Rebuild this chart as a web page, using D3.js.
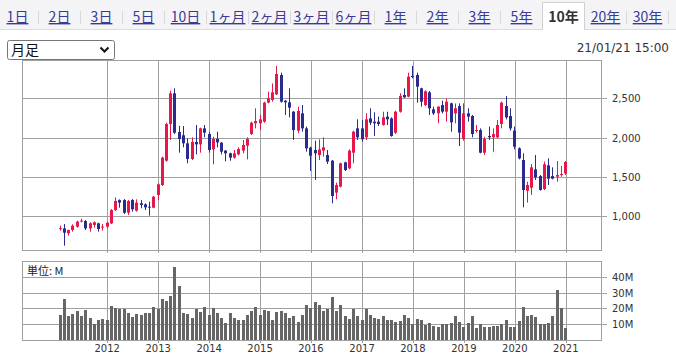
<!DOCTYPE html>
<html lang="ja">
<head>
<meta charset="utf-8">
<title>10年 月足</title>
<script src="https://cdn.jsdelivr.net/npm/d3@7"></script>
<style>
  body { margin: 0; background: #fff; }
  svg { display: block; }
  .axis text { font-family: "DejaVu Sans", sans-serif; font-size: 10px; fill: #333; }
  .axis .domain { display: none; }
  .axis line { stroke: #a0a0a0; shape-rendering: crispEdges; }
</style>
</head>
<body>
<svg id="chart"></svg>
<script>
// period tabs
const tabs = ["1日", "2日", "3日", "5日", "10日", "1ヶ月", "2ヶ月", "3ヶ月", "6ヶ月",
              "1年", "2年", "3年", "5年", "10年", "20年", "30年"];
const activeTab = "10年";
const stamp = "21/01/21 15:00";

// monthly candles, Feb 2011 .. Jan 2021 (yen)
const open = [845, 847, 784, 826, 868, 938, 940, 847, 890, 911, 862, 868,
  911, 1080, 1207, 1207, 1046, 1207, 1072, 1165, 1152, 1123, 1110, 1271,
  1398, 1707, 2173, 2563, 2072, 2030, 1928, 1729, 1945, 1915, 2118, 2046,
  1851, 1983, 1936, 1835, 1801, 1746, 1788, 1835, 1898, 2046, 2182, 2182,
  2203, 2445, 2479, 2551, 2796, 2470, 2449, 2330, 2089, 2309, 2118, 1873,
  1843, 1779, 1835, 1779, 1707, 1301, 1377, 1686, 1610, 1809, 2118, 2118,
  2004, 2245, 2203, 2203, 2161, 2267, 2245, 2063, 2330, 2542, 2521, 2784,
  2796, 2627, 2415, 2576, 2360, 2309, 2415, 2330, 2436, 2309, 2402, 1983,
  2309, 2275, 2089, 2097, 1809, 2021, 2004, 2004, 2173, 2402, 2275, 2089,
  1864, 1716, 1326, 1364, 1597, 1512, 1347, 1648, 1512, 1504, 1525, 1546];
const high = [881, 902, 830, 898, 945, 970, 953, 924, 936, 919, 902, 932,
  1093, 1241, 1216, 1220, 1207, 1220, 1216, 1207, 1165, 1186, 1258, 1419,
  1758, 2190, 2597, 2627, 2150, 2148, 1991, 2004, 2161, 2127, 2161, 2076,
  2012, 2076, 1945, 1843, 1809, 1843, 1877, 1970, 2004, 2203, 2373, 2288,
  2457, 2584, 2690, 2911, 2826, 2479, 2627, 2339, 2394, 2415, 2140, 1885,
  1962, 1979, 2004, 1843, 1716, 1428, 1682, 1695, 1851, 2089, 2233, 2224,
  2309, 2373, 2322, 2267, 2330, 2330, 2258, 2343, 2563, 2627, 2826, 2911,
  2826, 2635, 2600, 2593, 2394, 2400, 2470, 2500, 2445, 2436, 2436, 2436,
  2373, 2288, 2161, 2118, 2012, 2140, 2118, 2224, 2457, 2529, 2373, 2140,
  1877, 1801, 1440, 1665, 1779, 1525, 1695, 1737, 1623, 1703, 1640, 1703];
const low = [818, 627, 754, 805, 856, 924, 826, 805, 856, 805, 818, 847,
  902, 1068, 1110, 1030, 1017, 1059, 1059, 1102, 1080, 1008, 1102, 1207,
  1385, 1695, 1970, 2046, 1809, 1877, 1674, 1716, 1788, 1809, 2004, 1809,
  1661, 1877, 1788, 1699, 1707, 1733, 1775, 1801, 1724, 2034, 2118, 2097,
  2190, 2436, 2457, 2542, 2445, 2288, 2258, 1970, 2055, 2076, 1822, 1576,
  1462, 1716, 1758, 1665, 1165, 1216, 1368, 1576, 1597, 1674, 1970, 1949,
  1970, 2161, 2021, 2148, 2152, 2161, 2012, 2046, 2318, 2505, 2512, 2754,
  2445, 2394, 2400, 2288, 2288, 2182, 2309, 2203, 2076, 2182, 1894, 1962,
  2203, 2004, 2063, 1801, 1779, 1970, 1822, 1991, 2118, 2233, 2089, 1851,
  1724, 1114, 1174, 1271, 1462, 1326, 1335, 1398, 1470, 1440, 1504, 1525];
const close = [850, 792, 826, 881, 932, 945, 847, 911, 924, 839, 870, 919,
  1080, 1195, 1174, 1046, 1195, 1089, 1174, 1144, 1114, 1110, 1250, 1407,
  1746, 2173, 2563, 2063, 1983, 1928, 1729, 1945, 1915, 2118, 2063, 1843,
  1983, 1940, 1822, 1801, 1746, 1801, 1856, 1907, 1983, 2190, 2211, 2233,
  2445, 2500, 2576, 2809, 2457, 2449, 2381, 2097, 2339, 2118, 1864, 1771,
  1801, 1851, 1877, 1695, 1258, 1398, 1674, 1589, 1835, 2076, 2004, 1979,
  2233, 2190, 2182, 2173, 2258, 2233, 2021, 2330, 2529, 2512, 2775, 2775,
  2648, 2457, 2590, 2373, 2309, 2394, 2330, 2457, 2195, 2373, 2063, 2309,
  2267, 2046, 2097, 1809, 1983, 2004, 2046, 2161, 2445, 2258, 2118, 1885,
  1737, 1335, 1398, 1623, 1496, 1335, 1661, 1479, 1479, 1525, 1538, 1690];

// monthly volume (millions of shares)
const volume = [15.7, 25.7, 15.1, 16.3, 18.2, 15.1, 18.8, 14.0, 10.0, 12.5, 13.2, 12.5,
  21.3, 20.5, 19.8, 19.4, 16.9, 14.4, 16.3, 15.7, 16.9, 16.9, 20.7, 19.8,
  25.7, 24.5, 27.6, 45.9, 33.9, 16.9, 16.3, 13.8, 19.4, 17.5, 20.7, 15.7,
  20.1, 16.9, 13.8, 10.7, 16.9, 13.8, 12.5, 12.5, 15.7, 18.2, 20.7, 15.7,
  18.8, 18.2, 12.5, 17.5, 18.2, 16.9, 13.8, 15.1, 11.3, 15.7, 22.0, 20.1,
  23.9, 22.0, 18.2, 19.4, 27.0, 18.2, 22.0, 15.1, 13.2, 19.4, 15.1, 12.5,
  19.4, 15.7, 13.8, 13.2, 15.1, 12.5, 12.5, 11.3, 11.9, 15.7, 13.8, 10.0,
  13.2, 12.5, 9.4, 10.7, 8.7, 8.1, 10.0, 10.0, 10.7, 15.1, 11.3, 8.1,
  10.7, 15.1, 7.5, 10.0, 8.1, 8.1, 8.7, 8.7, 10.0, 12.5, 8.1, 8.1,
  11.9, 20.7, 15.1, 15.7, 14.4, 10.0, 10.0, 10.7, 15.1, 31.4, 20.1, 7.5];

const priceTicks = [1000, 1500, 2000, 2500];
const volumeTicks = [10, 20, 30, 40];
const years = [2012, 2013, 2014, 2015, 2016, 2017, 2018, 2019, 2020, 2021];

const svg_width = 676, svg_height = 354;
const plot = { left: 22, right: 602, top: 60, bottom: 250 };
const vol = { top: 261, bottom: 340 };
const UP = "#e8174b", DOWN = "#2b2b8e", GRID = "#a0a0a0";

const svg = d3.select("#chart")
    .attr("width", svg_width)
    .attr("height", svg_height);

// ---- tab strip ----
const tabX = d3.scaleBand().domain(tabs).range([-3.5, -3.5 + 42 * tabs.length]);

svg.append("rect")
    .attr("x", 0).attr("y", 0)
    .attr("width", svg_width).attr("height", 29.5)
    .attr("fill", "#f4f4f7");
svg.append("line")
    .attr("x1", 0).attr("x2", svg_width)
    .attr("y1", 29.5).attr("y2", 29.5)
    .attr("stroke", "#dcdcdc");

const tab = svg.append("g").selectAll("g")
    .data(tabs)
    .join("g")
    .attr("transform", d => `translate(${tabX(d)},0)`);

tab.filter(d => d === activeTab).append("path")
    .attr("d", `M0,30V2.5H${tabX.bandwidth()}V30`)
    .attr("fill", "#fff")
    .attr("stroke", "#d0d0d0");

tab.filter((d, i) => d !== activeTab && tabs[i + 1] !== activeTab)
    .append("line")
    .attr("x1", tabX.bandwidth()).attr("x2", tabX.bandwidth())
    .attr("y1", 11).attr("y2", 24)
    .attr("stroke", "#d8d8d8");

tab.append("text")
    .attr("x", tabX.bandwidth() / 2)
    .attr("y", 22)
    .attr("text-anchor", "middle")
    .style("font-family", '"Noto Sans CJK JP", sans-serif')
    .style("font-size", "14px")
    .style("font-weight", d => d === activeTab ? "bold" : "normal")
    .style("text-decoration", d => d === activeTab ? "none" : "underline")
    .attr("fill", d => d === activeTab ? "#333" : "#3a3a96")
    .text(d => d);

// ---- select box + timestamp ----
const sel = svg.append("g");
sel.append("rect")
    .attr("x", 7.5).attr("y", 40.5)
    .attr("width", 107).attr("height", 19)
    .attr("rx", 2)
    .attr("fill", "#fff")
    .attr("stroke", "#767676");
sel.append("text")
    .attr("x", 11).attr("y", 55)
    .style("font-family", '"Noto Sans CJK JP", sans-serif')
    .style("font-size", "14px")
    .attr("fill", "#111")
    .text("月足");
sel.append("path")
    .attr("d", "M100.5,47.5l4,4l4,-4")
    .attr("fill", "none")
    .attr("stroke", "#111")
    .attr("stroke-width", 2);

svg.append("text")
    .attr("x", 669).attr("y", 51.5)
    .attr("text-anchor", "end")
    .style("font-family", '"DejaVu Sans", sans-serif')
    .style("font-size", "12px")
    .attr("fill", "#333")
    .text(stamp);

// ---- scales ----
const months = d3.timeMonth.range(new Date(2011, 1, 1), new Date(2021, 1, 1));
const candles = months.map((m, i) => ({
    date: m, o: open[i], h: high[i], l: low[i], c: close[i], v: volume[i]
}));

const x = d3.scaleTime()
    .domain([new Date(2010, 4, 4), new Date(2021, 8, 21)])
    .range([plot.left, plot.right]);
const y = d3.scaleLinear().domain([572, 2987]).range([plot.bottom, plot.top]);
const yv = d3.scaleLinear().domain([0, 50]).range([vol.bottom, vol.top]);
const yearDates = years.map(yr => new Date(yr, 0, 1));
const px = d => Math.round(x(d));

// ---- price panel ----
svg.append("g")
    .attr("class", "axis")
    .attr("transform", `translate(0,${plot.bottom + 3})`)
    .call(d3.axisBottom(x).tickValues(yearDates)
        .tickSize(-(plot.bottom + 3 - plot.top)).tickFormat(""))
    .selectAll(".tick line").attr("transform", "translate(0.5,0)");

svg.append("g")
    .attr("class", "axis")
    .attr("transform", `translate(${plot.right + 5},0.5)`)
    .call(d3.axisRight(y).tickValues(priceTicks)
        .tickSize(-(plot.right + 5 - plot.left)).tickPadding(5)
        .tickFormat(d3.format(",")))
    .selectAll(".tick").attr("transform", d => `translate(0,${Math.round(y(d))})`);

svg.append("rect")
    .attr("x", plot.left + 0.5).attr("y", plot.top + 0.5)
    .attr("width", plot.right - plot.left - 1).attr("height", plot.bottom - plot.top)
    .attr("fill", "none")
    .attr("stroke", GRID);

const candle = svg.append("g").selectAll("g")
    .data(candles)
    .join("g")
    .attr("fill", d => d.c >= d.o ? UP : DOWN)
    .attr("stroke", d => d.c >= d.o ? UP : DOWN);

candle.append("line")
    .attr("x1", d => px(d.date) + 0.5).attr("x2", d => px(d.date) + 0.5)
    .attr("y1", d => y(d.h)).attr("y2", d => y(d.l));

candle.append("rect")
    .attr("x", d => px(d.date) - 1)
    .attr("width", 3)
    .attr("y", d => y(Math.max(d.o, d.c)))
    .attr("height", d => Math.max(1, Math.abs(y(d.o) - y(d.c))))
    .attr("stroke", "none");

// ---- volume panel ----
svg.append("g")
    .attr("class", "axis")
    .attr("transform", `translate(0,${vol.bottom + 3})`)
    .call(d3.axisBottom(x).tickValues(yearDates)
        .tickSize(-(vol.bottom + 3 - vol.top)).tickPadding(2)
        .tickFormat(d3.timeFormat("%Y")))
    .selectAll(".tick line").attr("transform", "translate(0.5,0)");

svg.append("g")
    .attr("class", "axis")
    .attr("transform", `translate(${plot.right + 5},0.5)`)
    .call(d3.axisRight(yv).tickValues(volumeTicks)
        .tickSize(-(plot.right + 5 - plot.left)).tickPadding(5)
        .tickFormat(d => d + "M"))
    .selectAll(".tick").attr("transform", d => `translate(0,${Math.round(yv(d))})`);

svg.append("rect")
    .attr("x", plot.left + 0.5).attr("y", vol.top + 0.5)
    .attr("width", plot.right - plot.left - 1).attr("height", vol.bottom - vol.top)
    .attr("fill", "none")
    .attr("stroke", GRID);

svg.append("g").selectAll("rect")
    .data(candles)
    .join("rect")
    .attr("x", d => px(d.date) - 1)
    .attr("width", 3)
    .attr("y", d => Math.round(yv(d.v)))
    .attr("height", d => vol.bottom - Math.round(yv(d.v)))
    .attr("fill", "#666");

svg.append("text")
    .attr("x", 27).attr("y", 275)
    .style("font-family", '"Noto Sans CJK JP", sans-serif')
    .style("font-size", "11px")
    .attr("fill", "#222")
    .text("単位: M");
</script>
</body>
</html>
